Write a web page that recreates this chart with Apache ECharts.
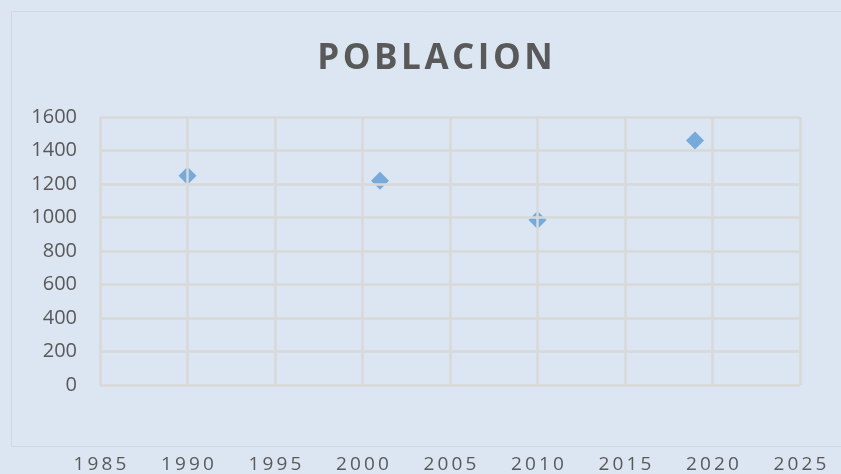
<!DOCTYPE html>
<html><head><meta charset="utf-8">
<script src="https://cdn.jsdelivr.net/npm/echarts@6/dist/echarts.min.js"></script>
<style>html,body{margin:0;padding:0;background:#dce6f2;}#c{width:841px;height:474px;}</style>
</head><body><div id="c"></div>
<script>
const years = [1990, 2001, 2010, 2019];
const poblacion = [1250, 1220, 985, 1460];
const xTicks = [1985, 1990, 1995, 2000, 2005, 2010, 2015, 2020, 2025];
const yTicks = [0, 200, 400, 600, 800, 1000, 1200, 1400, 1600];
const titleText = 'POBLACION';

const spaced = s => String(s).split('').join('\u2009');
const chart = echarts.init(document.getElementById('c'), null, {renderer: 'canvas'});
chart.setOption({
  backgroundColor: '#dce6f2',
  animation: false,
  title: {
    text: titleText.split('').join('\u200A'),
    left: 430, top: 37, textAlign: 'center',
    textStyle: {fontFamily: 'Open Sans', fontWeight: 'bold', fontSize: 35, color: '#595959'}
  },
  graphic: [{type: 'rect', shape: {x: 11.5, y: 11.5, width: 900, height: 435}, style: {fill: 'none', stroke: '#d4d8dd', lineWidth: 1}, z: -1}],
  grid: {left: 100, right: 41, top: 117, bottom: 89},
  xAxis: {
    type: 'value', min: xTicks[0], max: xTicks[xTicks.length - 1], interval: 5, z: 5,
    axisLine: {show: false}, axisTick: {show: false},
    splitLine: {show: true, lineStyle: {color: '#d9d9d9', width: 2.5}},
    axisLabel: {margin: 70, fontFamily: 'Open Sans', fontSize: 19, color: '#595959', formatter: v => spaced(v)}
  },
  yAxis: {
    type: 'value', min: yTicks[0], max: yTicks[yTicks.length - 1], interval: 200, z: 5,
    axisLine: {show: false}, axisTick: {show: false},
    splitLine: {show: true, lineStyle: {color: '#d9d9d9', width: 2.5}},
    axisLabel: {margin: 23, fontFamily: 'Open Sans', fontSize: 20, color: '#595959', formatter: v => String(v)}
  },
  series: [{
    type: 'scatter', z: 1, symbol: 'diamond', symbolSize: 18,
    itemStyle: {color: '#5b9bd5'},
    data: years.map((y, i) => [y, poblacion[i]])
  }]
});
</script></body></html>
